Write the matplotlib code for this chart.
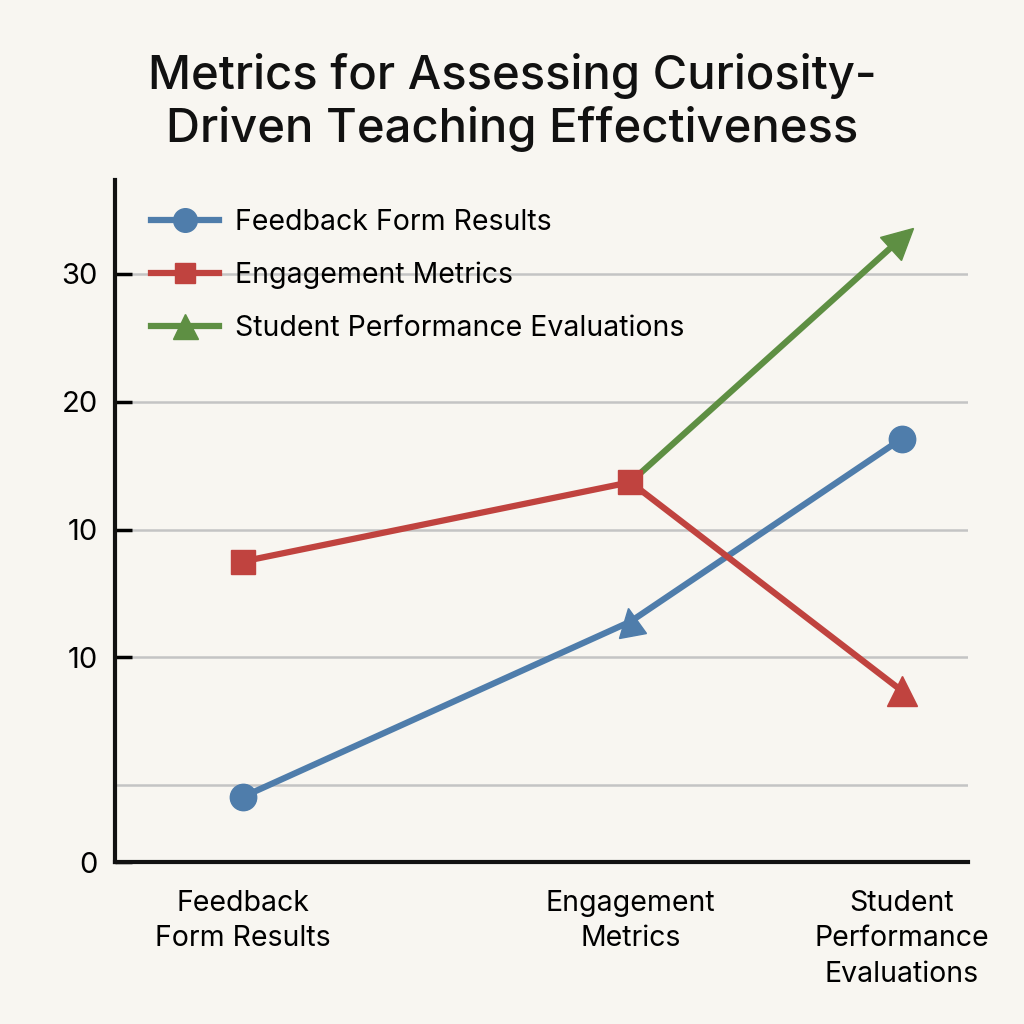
import numpy as np
import matplotlib.pyplot as plt
from matplotlib.markers import MarkerStyle
from matplotlib.transforms import Affine2D
from matplotlib.lines import Line2D

plt.rcParams['font.family'] = ['Inter', 'DejaVu Sans']

# categories and series values
categories = ["Feedback\nForm Results", "Engagement\nMetrics", "Student\nPerformance\nEvaluations"]
feedback = [4.1, 17.8, 32.1]
engagement = [22.5, 28.7, 12.4]
performance = [np.nan, 28.7, 47.8]
series_names = ["Feedback Form Results", "Engagement Metrics", "Student Performance Evaluations"]

# y tick positions and their (odd) labels as printed
ytick_vals = [-1.0, 15, 25, 35, 45]
ytick_labels = ["0", "10", "10", "20", "30"]
grid_vals = [5, 15, 25, 35, 45]

x_pos = [0, 1.0, 1.7]

BG = "#f8f6f1"
BLUE = "#4f7dab"
RED = "#c0433f"
GREEN = "#5e8f43"


def tri(angle):
    return MarkerStyle('^', transform=Affine2D().rotate_deg(angle))


fig = plt.figure(figsize=(10.24, 10.24), dpi=100, facecolor=BG)
ax = fig.add_axes([0.112, 0.158, 0.833, 0.666], facecolor=BG)

for g in grid_vals:
    ax.axhline(g, color="#c4c4c4", lw=1.8, zorder=1)

lw = 4.5
ax.plot(x_pos, performance, color=GREEN, lw=lw, zorder=3, solid_capstyle='round')
ax.plot(x_pos, feedback, color=BLUE, lw=lw, zorder=4, solid_capstyle='round')
ax.plot(x_pos, engagement, color=RED, lw=lw, zorder=5, solid_capstyle='round')

# point markers
blue_marks = ['o', tri(10), 'o']
red_marks = ['s', 's', tri(0)]
for x, y, m in zip(x_pos, feedback, blue_marks):
    ax.plot(x, y, marker=m, ms=20 if m != 'o' else 19, color=BLUE, zorder=6)
for x, y, m in zip(x_pos, engagement, red_marks):
    ax.plot(x, y, marker=m, ms=17 if m == 's' else 22, color=RED, zorder=6)
ax.plot(x_pos[2], performance[2], marker=tri(-48), ms=22, color=GREEN, zorder=6)

ax.set_xlim(-0.33, 1.87)
ax.set_ylim(-1.0, 52.3)

ax.set_yticks(ytick_vals)
ax.set_yticklabels(ytick_labels, fontsize=21)
ax.tick_params(axis='y', direction='in', length=12, width=2.5, pad=12)
ax.set_xticks(x_pos)
ax.set_xticklabels(categories, fontsize=20.5, linespacing=1.4)
ax.tick_params(axis='x', length=0, pad=20)

for s in ['top', 'right']:
    ax.spines[s].set_visible(False)
for s in ['left', 'bottom']:
    ax.spines[s].set_linewidth(3)
    ax.spines[s].set_color("#111111")

handles = [
    Line2D([], [], color=BLUE, lw=lw, marker='o', ms=17),
    Line2D([], [], color=RED, lw=lw, marker='s', ms=15),
    Line2D([], [], color=GREEN, lw=lw, marker='^', ms=18),
]
ax.legend(handles, series_names, loc='upper left', bbox_to_anchor=(0.012, 0.995),
          frameon=False, fontsize=20.5, handlelength=2.4, handletextpad=0.55,
          labelspacing=0.9)

fig.text(0.5, 0.9, "Metrics for Assessing Curiosity-\nDriven Teaching Effectiveness",
         ha='center', va='center', fontsize=34, fontweight='medium',
         linespacing=1.2, color="#111111")

fig.savefig("out.png", dpi=100, facecolor=BG)
